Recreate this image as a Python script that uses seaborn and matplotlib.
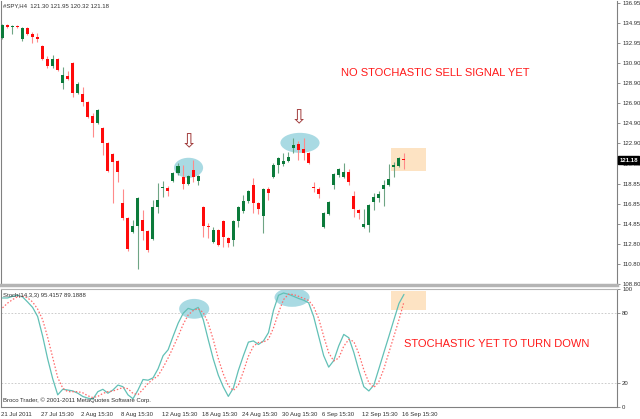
import numpy as np
import pandas as pd
import seaborn as sns
import matplotlib.pyplot as plt
from matplotlib.patches import Ellipse, Rectangle

# SPY H4 candles, 21 Jul - 16 Sep 2011
opens = [133.37, 134.66, 134.52, 134.57, 133.27, 134.37, 133.77, 133.47, 132.58, 131.28,
         130.59, 131.28, 128.90, 129.60, 130.89, 127.91, 127.81, 127.01, 125.62, 124.92,
         124.43, 122.94, 121.84, 121.15, 116.97, 115.48, 114.09, 114.59, 115.28, 114.19,
         113.39, 116.57, 118.41, 118.46, 119.16, 119.95, 119.56, 118.86, 120.25, 119.16,
         116.57, 114.59, 113.00, 114.29, 115.18, 113.49, 113.20, 115.18, 116.18, 117.17,
         118.76, 116.97, 115.68, 118.36, 119.56, 120.75, 120.85, 121.15, 122.44, 122.84,
         122.34, 121.94, 118.46, 118.36, 114.49, 115.88, 118.76, 119.76, 119.56, 120.05,
         117.67, 116.28, 114.49, 114.69, 117.07, 117.47, 118.36, 118.76, 120.55, 120.65,
         121.30]
highs = [134.76, 134.76, 134.66, 134.66, 134.47, 134.47, 133.97, 133.87, 132.68, 131.58,
         131.68, 131.38, 130.49, 130.09, 130.99, 129.00, 128.50, 127.11, 125.92, 126.32,
         124.53, 123.03, 121.94, 121.25, 118.36, 115.58, 115.28, 117.57, 116.28, 114.29,
         117.27, 118.96, 119.16, 118.66, 120.05, 120.95, 120.75, 119.76, 121.25, 119.76,
         116.67, 114.98, 114.49, 114.39, 115.28, 113.59, 115.28, 116.67, 117.77, 118.26,
         119.46, 117.07, 118.46, 118.56, 120.95, 121.54, 121.94, 122.04, 123.43, 123.13,
         123.43, 122.04, 119.06, 118.56, 116.08, 117.17, 119.95, 120.45, 120.95, 120.35,
         118.17, 116.37, 116.37, 116.87, 117.97, 118.17, 119.26, 120.85, 121.05, 121.54,
         121.95]
lows = [133.27, 134.37, 133.77, 134.37, 133.07, 133.67, 132.88, 132.97, 131.19, 130.39,
        130.39, 130.09, 128.30, 129.25, 127.51, 127.81, 126.61, 125.42, 123.53, 124.82,
        121.74, 120.05, 116.97, 119.06, 115.28, 112.10, 113.99, 110.31, 113.29, 112.00,
        113.29, 115.98, 117.57, 117.67, 119.06, 119.76, 118.36, 118.76, 119.06, 118.76,
        113.59, 113.49, 112.95, 112.60, 112.50, 112.50, 112.60, 114.49, 115.98, 116.97,
        115.98, 115.88, 113.99, 117.27, 119.46, 119.95, 120.65, 121.05, 121.94, 121.25,
        121.25, 120.85, 118.07, 117.47, 114.45, 115.78, 118.36, 119.56, 119.46, 118.76,
        115.58, 115.38, 114.45, 114.09, 116.28, 117.07, 116.67, 118.66, 119.56, 120.55,
        120.32]
closes = [134.66, 134.47, 134.57, 134.52, 134.37, 133.77, 133.47, 133.27, 131.28, 130.59,
          131.28, 130.19, 129.70, 129.30, 127.91, 128.80, 127.01, 125.52, 124.92, 126.22,
          122.94, 120.15, 121.05, 120.05, 115.48, 112.30, 114.59, 117.47, 114.19, 112.20,
          116.57, 117.27, 118.46, 118.17, 119.95, 120.65, 118.86, 119.66, 119.56, 119.66,
          114.59, 114.54, 114.29, 112.70, 113.59, 112.90, 115.18, 116.57, 117.17, 118.17,
          116.97, 116.37, 118.36, 117.97, 120.75, 121.45, 121.15, 121.54, 122.74, 122.24,
          121.94, 120.95, 118.41, 117.87, 115.98, 117.07, 119.85, 120.35, 120.05, 119.06,
          116.37, 115.98, 114.79, 116.77, 117.57, 117.87, 118.76, 119.36, 120.75, 121.45,
          121.18]

# Stochastic(14,3,3): main line and signal line
stoch_main = [92.4, 92.4, 93.8, 94.7, 93.3, 89.0, 84.4, 76.7, 60.0, 40.7,
              24.0, 10.3, 15.0, 14.4, 13.6, 11.7, 8.9, 7.5, 6.7, 13.0,
              15.0, 11.7, 14.4, 18.6, 17.2, 10.3, 7.0, 14.4, 23.3, 22.7,
              24.7, 32.4, 43.5, 48.5, 60.0, 71.0, 79.4, 83.6, 82.2, 84.4,
              74.0, 57.0, 40.7, 27.0, 17.0, 9.0, 16.0, 31.0, 43.5, 55.0,
              56.0, 53.0, 56.0, 63.0, 82.0, 94.7, 96.6, 95.5, 93.8, 92.0,
              90.5, 88.3, 76.7, 60.0, 43.5, 33.8, 39.3, 51.8, 61.5, 58.7,
              46.3, 31.0, 17.2, 13.6, 18.6, 32.4, 46.3, 60.0, 74.0, 87.7,
              95.4157]
stoch_signal = [84.0, 88.0, 91.0, 93.5, 94.0, 92.5, 89.0, 83.0, 74.0, 59.0,
                42.0, 25.0, 16.0, 13.0, 13.0, 13.0, 12.0, 9.5, 8.0, 9.0,
                11.5, 13.0, 13.5, 15.0, 16.5, 15.5, 11.5, 10.5, 15.0, 20.0,
                23.5, 26.5, 33.5, 41.5, 50.5, 60.0, 70.0, 78.0, 81.7, 83.4,
                80.0, 71.0, 57.0, 41.0, 28.0, 18.0, 14.0, 18.5, 30.0, 43.0,
                51.5, 54.7, 55.0, 57.5, 67.0, 80.0, 91.0, 95.6, 95.3, 93.8,
                92.0, 90.3, 85.0, 75.0, 60.0, 46.0, 39.0, 41.5, 51.5, 57.3,
                55.5, 45.3, 31.5, 20.6, 16.5, 21.5, 32.4, 46.3, 60.0, 73.9,
                89.1888]

date_ticks = [0, 8, 16, 24, 32, 40, 48, 56, 64, 72, 80]
date_labels = ["21 Jul 2011", "27 Jul 15:30", "2 Aug 15:30", "8 Aug 15:30",
               "12 Aug 15:30", "18 Aug 15:30", "24 Aug 15:30", "30 Aug 15:30",
               "6 Sep 15:30", "12 Sep 15:30", "16 Sep 15:30"]
price_ticks = [136.95, 134.95, 132.95, 130.90, 128.90, 126.90, 124.90, 122.90,
               120.85, 118.85, 116.85, 114.85, 112.80, 110.80, 108.80]
stoch_ticks = [0, 20, 80, 100]

df = pd.DataFrame({"open": opens, "high": highs, "low": lows, "close": closes})
df["bar"] = np.arange(len(df))
df["up"] = df["close"] >= df["open"]
st = pd.DataFrame({"bar": np.arange(len(stoch_main)), "main": stoch_main, "signal": stoch_signal})

sns.set_style("white")
plt.rcParams["font.family"] = ["Liberation Sans", "DejaVu Sans"]

W, H = 640, 419
fig = plt.figure(figsize=(6.4, 4.19), dpi=100)
ax = fig.add_axes([1 / W, 1 - 285 / H, 616 / W, 284 / H])
ax2 = fig.add_axes([1 / W, 1 - 407 / H, 616 / W, 118 / H])

GREEN, RED = "#0b7a3a", "#ff0a0a"
xlim = (-0.26, 122.45)

# highlight shapes behind the candles
ax.add_patch(Ellipse((37.1, 120.45), 5.8, 2.0, color="#a9dae3", zorder=1, lw=0))
ax.add_patch(Ellipse((59.3, 122.94), 7.8, 2.0, color="#a9dae3", zorder=1, lw=0))
ax.add_patch(Rectangle((77.4, 120.15), 7.0, 2.29, color="#fde3c3", zorder=1, lw=0))

up = df[df["up"]]
dn = df[~df["up"]]
ax.vlines(up["bar"], up["low"], up["high"], color="#6fa585", lw=0.8, zorder=2)
ax.vlines(dn["bar"], dn["low"], dn["high"], color="#ff8a8a", lw=0.8, zorder=2)
body = (df["close"] - df["open"]).abs().clip(lower=0.08)
ax.bar(df["bar"], body, bottom=df[["open", "close"]].min(axis=1), width=0.6,
       color=np.where(df["up"], GREEN, RED), zorder=3, lw=0)

# hollow down arrows above the tops
for bx, by in [(37.2, 123.05), (59.0, 125.45)]:
    ax.text(bx, by, "\u21e9", ha="center", va="center", fontsize=14,
            color="#a03a3a", family="DejaVu Sans", zorder=4)

ax.text(0.705, 0.745, "NO STOCHASTIC SELL SIGNAL YET", transform=ax.transAxes,
        ha="center", va="center", fontsize=8, color="#ff1a1a")

ax.set_xlim(*xlim)
ax.set_ylim(108.75, 137.1)
ax.set_xticks([])
ax.yaxis.tick_right()
ax.set_yticks(price_ticks)
ax.set_yticklabels([f"{t:.2f}" for t in price_ticks])
ax.tick_params(axis="y", length=2.5, width=0.6, color="#808080", pad=1.5,
               labelsize=4.3, labelcolor="#303030")
for s in ["left", "right"]:
    ax.spines[s].set_color("#808080")
    ax.spines[s].set_linewidth(0.8)
ax.spines["top"].set_visible(False)
ax.spines["bottom"].set_color("#b4b4b4")
ax.spines["bottom"].set_linewidth(2.5)
ax.text(1.004, 121.18, "121.18", transform=ax.get_yaxis_transform(), ha="left",
        va="center", fontsize=4.3, color="white", fontweight="bold",
        bbox=dict(boxstyle="square,pad=0.25", fc="black", ec="black"))

# stochastic panel
ax2.add_patch(Ellipse((38.2, 83.2), 6.0, 16.8, color="#a9dae3", zorder=1, lw=0))
ax2.add_patch(Ellipse((57.7, 92.9), 7.0, 16.0, color="#a9dae3", zorder=1, lw=0))
ax2.add_patch(Rectangle((77.4, 82.4), 7.0, 16.0, color="#fde3c3", zorder=1, lw=0))
ax2.axhline(80, color="#c4c4c4", ls=(0, (2, 2)), lw=0.6, zorder=0)
ax2.axhline(20, color="#c4c4c4", ls=(0, (2, 2)), lw=0.6, zorder=0)
sns.lineplot(data=st, x="bar", y="main", ax=ax2, color="#62c0b6", lw=0.9, zorder=3)
sns.lineplot(data=st, x="bar", y="signal", ax=ax2, color="#ff6a6a", lw=0.9,
             ls=(0, (1.2, 1.5)), zorder=3)
ax2.text(0.805, 0.53, "STOCHASTIC YET TO TURN DOWN", transform=ax2.transAxes,
         ha="center", va="center", fontsize=8, color="#ff1a1a")
ax2.text(0.004, 0.965, "Stoch(14,3,3) 95.4157 89.1888", transform=ax2.transAxes,
         ha="left", va="top", fontsize=4.3, color="#303030")
ax2.text(0.004, 0.03, "Broco Trader, \u00a9 2001-2011 MetaQuotes Software Corp.",
         transform=ax2.transAxes, ha="left", va="bottom", fontsize=4.3, color="#303030")

ax2.set_xlim(*xlim)
ax2.set_ylim(0, 100)
ax2.set_xlabel("")
ax2.set_ylabel("")
ax2.yaxis.tick_right()
ax2.set_yticks(stoch_ticks)
ax2.set_yticklabels([str(t) for t in stoch_ticks])
ax2.set_xticks([t - 0.3 for t in date_ticks])
ax2.set_xticklabels(date_labels)
for lbl in ax2.get_xticklabels():
    lbl.set_horizontalalignment("left")
ax2.tick_params(axis="both", length=2.5, width=0.6, color="#808080", pad=1.2,
                labelsize=4.3, labelcolor="#303030")
for s in ax2.spines.values():
    s.set_color("#808080")
    s.set_linewidth(0.8)
ax2.spines["top"].set_color("#b4b4b4")

fig.text(3 / W, 1 - 6 / H, "#SPY,H4  121.30 121.95 120.32 121.18", ha="left",
         va="center", fontsize=4.3, color="#303030")

fig.savefig("out.png", dpi=100)
